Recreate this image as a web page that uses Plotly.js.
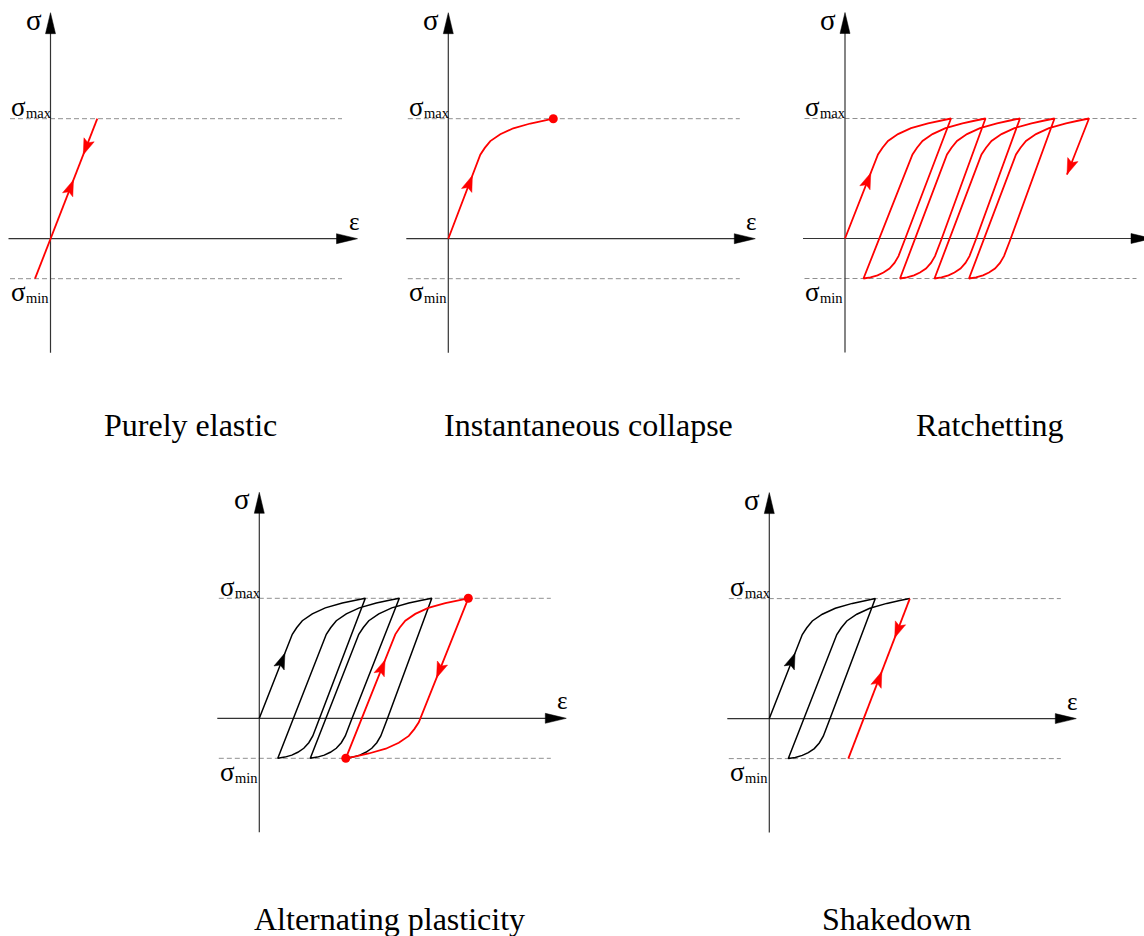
<!DOCTYPE html>
<html>
<head>
<meta charset="utf-8">
<script src="https://cdn.plot.ly/plotly-3.0.1.min.js"></script>
<style>
  html, body { margin: 0; padding: 0; background: #ffffff; }
  #chart { width: 1144px; height: 936px; }
</style>
</head>
<body>
<div id="chart"></div>
<script>
// ---- material response data (stress in MPa, strain in %) ----
const SIG_MAX = 300;
const SIG_MIN = -100;
const E_MOD = 636;            // elastic slope, MPa per % strain

// Yield knee on loading, offsets from the onset of yielding
const kneeUpEps = [0, 0.045, 0.10, 0.20, 0.33, 0.50, 0.63, 0.73];
const kneeUpSig = [0, 17, 34, 51, 66, 78, 85, 90];

// Short reverse-yield knee on unloading, offsets from the lower turning point
const kneeDownEps = [0, 0.07, 0.14, 0.20, 0.26, 0.31, 0.35, 0.38, 0.41];
const kneeDownSig = [0, 3, 8, 15, 25, 39, 56, 75, 95];

// Purely elastic
const elasticEps = [-0.155, 0.468];
const elasticSig = [SIG_MIN, SIG_MAX];
const elasticArrowSig = [147, 210];          // loading, unloading

// Instantaneous collapse
const collapseEndEps = 1.05;
const collapseArrowSig = 158;

// Ratchetting turning points
const ratchetTopEps = [1.06, 1.405, 1.75, 2.095, 2.44];
const ratchetBotEps = [0.185, 0.55, 0.895, 1.24];
const ratchetLastSig = 160;
const ratchetArrowSig = 164;

// Alternating plasticity turning points
const altTopEps = [1.06, 1.40, 1.725];
const altBotEps = [0.185, 0.51, 0.865];
const altLoopTopEps = 2.09;
const altArrowSig = [163, 146, 101];         // first loading, loop up, loop down

// Shakedown turning points
const shakeTopEps = [1.06, 1.405];
const shakeBotEps = [0.19];
const shakeElasticBotEps = 0.79;
const shakeArrowSig = [164, 202, 118];       // first loading, elastic down, elastic up

// ---- drawing setup ----
const W = 1144, H = 936;
const PX_PER_EPS = 100;   // pixels per % strain
const PX_PER_SIG = 0.4;   // pixels per MPa
const RED = '#ff0000';
const INK = '#000000';
const SERIF = 'Liberation Serif, Times New Roman, serif';

const panels = [
  { id: '',  ox: 50.5,  oy: 238.7, title: 'Purely elastic',          tx: 190.8, ty: 425.5 },
  { id: '2', ox: 448.3, oy: 238.7, title: 'Instantaneous collapse',  tx: 588.5, ty: 425.5 },
  { id: '3', ox: 845.0, oy: 238.5, title: 'Ratchetting',             tx: 990.0, ty: 425.5 },
  { id: '4', ox: 259.3, oy: 718.3, title: 'Alternating plasticity',  tx: 390.0, ty: 918.5 },
  { id: '5', ox: 769.3, oy: 718.6, title: 'Shakedown',               tx: 896.0, ty: 918.5 }
];

const traces = [];
const annotations = [];
const layout = {
  width: W, height: H,
  margin: { l: 0, r: 0, t: 0, b: 0 },
  paper_bgcolor: '#ffffff', plot_bgcolor: 'rgba(0,0,0,0)',
  showlegend: false, hovermode: false,
  annotations: annotations
};

const KE = kneeUpEps[kneeUpEps.length - 1];
const KS = kneeUpSig[kneeUpSig.length - 1];

// loading branch: elastic line from (e0, s0) up to the yield onset, then the knee to (eTop, SIG_MAX)
function loading(e0, s0, eTop) {
  const x = [e0], y = [s0];
  kneeUpEps.forEach((d, i) => { x.push(eTop - KE + d); y.push(SIG_MAX - KS + kneeUpSig[i]); });
  return { x, y };
}
// unloading with the short reverse knee, ending at (eBot, SIG_MIN)
function unloadShort(eTop, eBot) {
  const x = [eTop], y = [SIG_MAX];
  for (let i = kneeDownEps.length - 1; i >= 0; i--) {
    x.push(eBot + kneeDownEps[i]); y.push(SIG_MIN + kneeDownSig[i]);
  }
  return { x, y };
}
// unloading with the full knee (loading knee turned half a turn)
function unloadFull(eTop, eBot) {
  const x = [eTop], y = [SIG_MAX];
  kneeUpEps.forEach((d, i) => { x.push(eBot + KE - d); y.push(SIG_MIN + KS - kneeUpSig[i]); });
  return { x, y };
}
function join(...parts) {
  const x = [], y = [];
  parts.forEach(p => { x.push(...p.x); y.push(...p.y); });
  return { x, y };
}
// point on the first (elastic) segment of a branch at a given stress
function onFirstSegment(p, sig) {
  const t = (sig - p.y[0]) / (p.y[1] - p.y[0]);
  return { e: p.x[0] + t * (p.x[1] - p.x[0]), s: sig, de: p.x[1] - p.x[0], ds: p.y[1] - p.y[0] };
}

function axRefs(id) { return { xaxis: 'x' + id, yaxis: 'y' + id }; }

function line(id, p, color, width, dash) {
  traces.push(Object.assign({
    type: 'scatter', mode: 'lines', x: p.x, y: p.y,
    line: { color: color, width: width, dash: dash || 'solid', shape: 'linear' },
    hoverinfo: 'skip', cliponaxis: false
  }, axRefs(id)));
}

// filled arrow head with its tip at (e, s), pointing along (de, ds)
function arrowHead(id, e, s, de, ds, len, half, notch, color) {
  const px = de * PX_PER_EPS, py = ds * PX_PER_SIG;
  const n = Math.hypot(px, py);
  const ux = px / n, uy = py / n;
  const nx = -uy, ny = ux;
  const pts = [
    [0, 0],
    [-ux * len + nx * half, -uy * len + ny * half],
    [-ux * len * notch, -uy * len * notch],
    [-ux * len - nx * half, -uy * len - ny * half],
    [0, 0]
  ];
  traces.push(Object.assign({
    type: 'scatter', mode: 'lines',
    x: pts.map(q => e + q[0] / PX_PER_EPS),
    y: pts.map(q => s + q[1] / PX_PER_SIG),
    fill: 'toself', fillcolor: color,
    line: { color: color, width: 0.5 },
    hoverinfo: 'skip'
  }, axRefs(id)));
}
function dots(id, xs, ys, color) {
  traces.push(Object.assign({
    type: 'scatter', mode: 'markers', x: xs, y: ys,
    marker: { color: color, size: 9, line: { width: 0 } },
    hoverinfo: 'skip', cliponaxis: false
  }, axRefs(id)));
}
function text(id, x, y, str, size, xanchor) {
  annotations.push({
    xref: 'x' + id, yref: 'y' + id, x: x, y: y, text: str,
    showarrow: false, xanchor: xanchor || 'center', yanchor: 'middle',
    borderpad: 0,
    font: { family: SERIF, size: size, color: INK }
  });
}

// ---- frames: axes, limit lines, labels ----
panels.forEach(pn => {
  const id = pn.id;
  let xr = [-0.48, 3.13];
  let left = pn.ox + xr[0] * PX_PER_EPS, right = pn.ox + xr[1] * PX_PER_EPS;
  if (right > W) { right = W; xr[1] = (W - pn.ox) / PX_PER_EPS; }
  const yr = [-300, 580];
  const top = pn.oy - yr[1] * PX_PER_SIG, bottom = pn.oy - yr[0] * PX_PER_SIG;
  layout['xaxis' + id] = { domain: [left / W, right / W], range: xr, visible: false, fixedrange: true, anchor: 'y' + id };
  layout['yaxis' + id] = { domain: [1 - bottom / H, 1 - top / H], range: yr, visible: false, fixedrange: true, anchor: 'x' + id };

  // limit lines
  line(id, { x: [-0.405, 2.915], y: [SIG_MAX, SIG_MAX] }, '#8f8f8f', 1, '5px,3px');
  line(id, { x: [-0.405, 2.915], y: [SIG_MIN, SIG_MIN] }, '#8f8f8f', 1, '5px,3px');
  // strain axis
  line(id, { x: [-0.42, 2.95], y: [0, 0] }, '#333333', 1.2);
  arrowHead(id, 3.07, 0, 1, 0, 21, 5, 1, INK);
  // stress axis
  line(id, { x: [0, 0], y: [-285, 530] }, '#333333', 1.2);
  arrowHead(id, 0, 565, 0, 1, 21, 5, 1, INK);

  text(id, -0.17, 547, 'σ', 29);
  text(id, 3.035, 44, 'ε', 25);
  // limit labels: symbol plus a lowered suffix
  text(id, -0.322, 329, 'σ', 27);
  text(id, -0.258, 314, 'max', 14.5, 'left');
  text(id, -0.322, -134, 'σ', 27);
  text(id, -0.258, -148, 'min', 14.5, 'left');

  annotations.push({
    xref: 'paper', yref: 'paper', x: pn.tx / W, y: 1 - pn.ty / H,
    text: pn.title, showarrow: false, xanchor: 'center', yanchor: 'middle',
    font: { family: SERIF, size: 32, color: INK }
  });
});

const LW = 1.8;
const AL = 16, AH = 5.5, AN = 0.8;

// 1. purely elastic
{
  const p = { x: elasticEps, y: elasticSig };
  line('', p, RED, LW);
  const up = onFirstSegment(p, elasticArrowSig[0]);
  arrowHead('', up.e, up.s, up.de, up.ds, AL, AH, AN, RED);
  const dn = onFirstSegment(p, elasticArrowSig[1]);
  arrowHead('', dn.e, dn.s, -dn.de, -dn.ds, AL, AH, AN, RED);
}

// 2. instantaneous collapse
{
  const p = loading(0, 0, collapseEndEps);
  line('2', p, RED, LW);
  const a = onFirstSegment(p, collapseArrowSig);
  arrowHead('2', a.e, a.s, a.de, a.ds, AL, AH, AN, RED);
  dots('2', [p.x[p.x.length - 1]], [p.y[p.y.length - 1]], RED);
}

// 3. ratchetting
{
  const parts = [loading(0, 0, ratchetTopEps[0])];
  ratchetBotEps.forEach((b, i) => {
    parts.push(unloadShort(ratchetTopEps[i], b));
    parts.push(loading(b, SIG_MIN, ratchetTopEps[i + 1]));
  });
  const lastTop = ratchetTopEps[ratchetTopEps.length - 1];
  const tail = { x: [lastTop, lastTop - (SIG_MAX - ratchetLastSig) / E_MOD], y: [SIG_MAX, ratchetLastSig] };
  parts.push(tail);
  line('3', join(...parts), RED, LW);
  const a = onFirstSegment(parts[0], ratchetArrowSig);
  arrowHead('3', a.e, a.s, a.de, a.ds, AL, AH, AN, RED);
  arrowHead('3', tail.x[1], tail.y[1], tail.x[1] - tail.x[0], tail.y[1] - tail.y[0], AL, AH, AN, RED);
}

// 4. alternating plasticity
{
  const first = loading(0, 0, altTopEps[0]);
  const parts = [first];
  altBotEps.forEach((b, i) => {
    parts.push(unloadShort(altTopEps[i], b));
    if (i + 1 < altTopEps.length) parts.push(loading(b, SIG_MIN, altTopEps[i + 1]));
  });
  line('4', join(...parts), INK, 1.5);
  const a = onFirstSegment(first, altArrowSig[0]);
  arrowHead('4', a.e, a.s, a.de, a.ds, AL, AH, AN, INK);

  const b = altBotEps[altBotEps.length - 1];
  const up = loading(b, SIG_MIN, altLoopTopEps);
  const dn = unloadFull(altLoopTopEps, b);
  line('4', join(up, dn), RED, LW);
  const u = onFirstSegment(up, altArrowSig[1]);
  arrowHead('4', u.e, u.s, u.de, u.ds, AL, AH, AN, RED);
  const d = onFirstSegment(dn, altArrowSig[2]);
  arrowHead('4', d.e, d.s, d.de, d.ds, AL, AH, AN, RED);
  dots('4', [b, altLoopTopEps], [SIG_MIN, SIG_MAX], RED);
}

// 5. shakedown
{
  const first = loading(0, 0, shakeTopEps[0]);
  const p = join(first, unloadShort(shakeTopEps[0], shakeBotEps[0]), loading(shakeBotEps[0], SIG_MIN, shakeTopEps[1]));
  line('5', p, INK, 1.5);
  const a = onFirstSegment(first, shakeArrowSig[0]);
  arrowHead('5', a.e, a.s, a.de, a.ds, AL, AH, AN, INK);

  const el = { x: [shakeTopEps[1], shakeElasticBotEps], y: [SIG_MAX, SIG_MIN] };
  line('5', el, RED, LW);
  const d = onFirstSegment(el, shakeArrowSig[1]);
  arrowHead('5', d.e, d.s, d.de, d.ds, AL, AH, AN, RED);
  const u = onFirstSegment(el, shakeArrowSig[2]);
  arrowHead('5', u.e, u.s, -u.de, -u.ds, AL, AH, AN, RED);
}

Plotly.newPlot('chart', traces, layout, { displayModeBar: false, staticPlot: true });
</script>
</body>
</html>
